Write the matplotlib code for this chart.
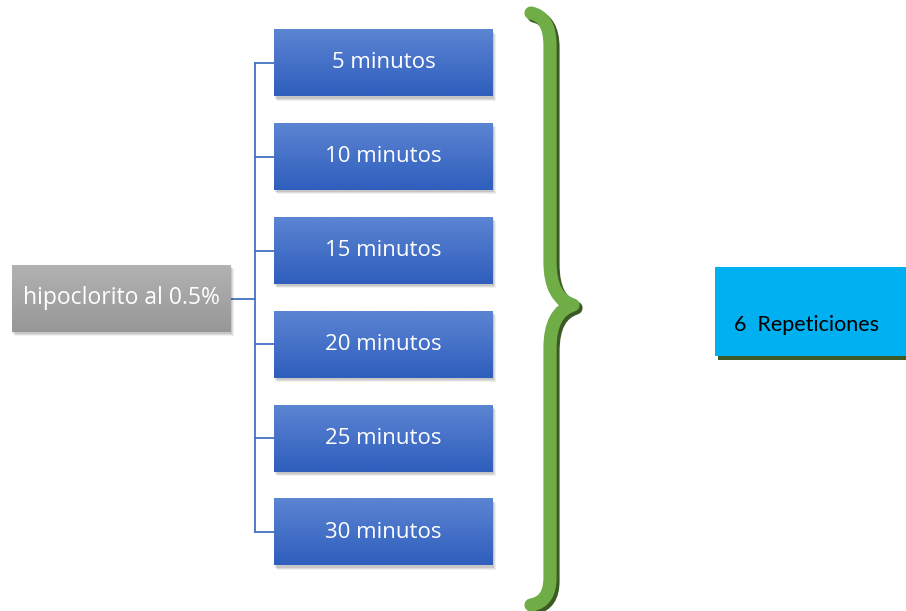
import numpy as np
import matplotlib
matplotlib.use("Agg")
import matplotlib.pyplot as plt
from matplotlib.patches import Rectangle, PathPatch
from matplotlib.path import Path

# chart content
root_label = "hipoclorito al 0.5%"
times = [5, 10, 15, 20, 25, 30]
time_labels = [f"{t} minutos" for t in times]
result_label = "6  Repeticiones"

W, H = 906, 611
fig = plt.figure(figsize=(W / 100, H / 100), dpi=100)
ax = fig.add_axes([0, 0, 1, 1])
ax.set_xlim(0, W)
ax.set_ylim(H, 0)
ax.axis("off")


def gradient_box(x, y, w, h, top, bottom, z=2):
    # soft drop shadow
    for i, a in enumerate([0.10, 0.08, 0.06]):
        ax.add_patch(Rectangle((x + 1 + i, y + 2 + i), w, h, color="black",
                               alpha=a, lw=0, zorder=z - 1))
    grad = np.linspace(0, 1, 64).reshape(-1, 1)
    c1 = np.array(matplotlib.colors.to_rgb(top))
    c2 = np.array(matplotlib.colors.to_rgb(bottom))
    img = c1 + grad[..., None] * (c2 - c1)
    img = np.repeat(img, 2, axis=1)
    ax.imshow(img, extent=(x, x + w, y + h, y), aspect="auto", zorder=z,
              interpolation="bilinear")


# blue boxes and connectors
bx, bw, bh = 274, 219, 67
y0, step = 63, 93.8
centers = [y0 + i * step for i in range(len(times))]
conn_x = 255
line_c = "#4472c4"
ax.plot([conn_x, conn_x], [centers[0], centers[-1]], color=line_c, lw=1.3, zorder=1)
for cy, lab in zip(centers, time_labels):
    ax.plot([conn_x, bx], [cy, cy], color=line_c, lw=1.3, zorder=1)
    gradient_box(bx, cy - bh / 2, bw, bh, "#5b84d2", "#2f5ebd")
    ax.text(bx + bw / 2, cy, lab, ha="center", va="center", color="white",
            fontsize=16, family="Open Sans", zorder=5)

# root box
gx, gy, gw, gh = 12, 265, 219, 67
root_cy = gy + gh / 2
ax.plot([gx + gw, conn_x], [root_cy, root_cy], color=line_c, lw=1.3, zorder=1)
gradient_box(gx, gy, gw, gh, "#b2b2b2", "#979797")
ax.text(gx + gw / 2, root_cy, root_label, ha="center", va="center", color="white",
        fontsize=16.5, family="Open Sans", zorder=5)

# curly brace
verts = [
    (531, 13), (550, 17), (550, 45),
    (550, 262),
    (550, 298), (573, 305),
    (550, 312), (550, 348),
    (550, 578),
    (550, 602), (531, 605),
]
codes = [Path.MOVETO, Path.CURVE3, Path.CURVE3,
         Path.LINETO,
         Path.CURVE3, Path.CURVE3,
         Path.CURVE3, Path.CURVE3,
         Path.LINETO,
         Path.CURVE3, Path.CURVE3]
brace = Path(verts, codes)
shadow = Path([(vx + 3, vy + 3) for vx, vy in verts], codes)
ax.add_patch(PathPatch(shadow, fill=False, edgecolor="#3b5a25", lw=9.5,
                       capstyle="round", joinstyle="round", zorder=3))
ax.add_patch(PathPatch(brace, fill=False, edgecolor="#70ad47", lw=9.5,
                       capstyle="round", joinstyle="round", zorder=4))

# result box
rx, ry, rw, rh = 715, 267, 195, 89
ax.add_patch(Rectangle((rx + 3, ry + 4), rw, rh, color="#3e5a26", lw=0, zorder=2))
ax.add_patch(Rectangle((rx, ry), rw, rh, color="#00b0f0", lw=0, zorder=3))
ax.text(734, 325, result_label, ha="left", va="center", color="black",
        fontsize=15.5, family="Lato", zorder=5)

fig.savefig("out.png", dpi=100)
